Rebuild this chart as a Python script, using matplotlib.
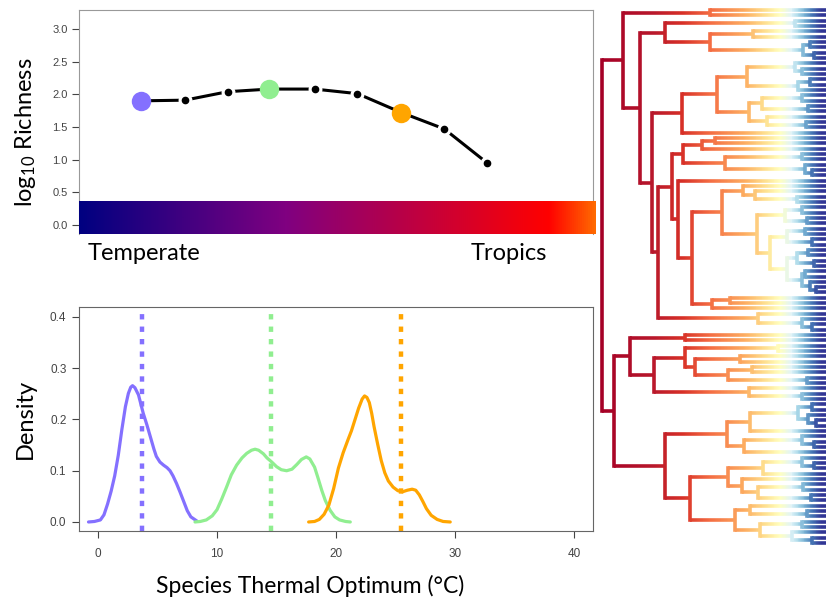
import numpy as np
import matplotlib
matplotlib.use('Agg')
import matplotlib.pyplot as plt
from matplotlib.colors import LinearSegmentedColormap, Normalize
from matplotlib.collections import LineCollection

# richness along the thermal gradient (top panel)
rich_x = [3.6, 7.3, 10.9, 14.4, 18.2, 21.8, 25.5, 29.1, 32.7]
rich_y = [1.90, 1.91, 2.04, 2.08, 2.08, 2.01, 1.72, 1.47, 0.95]
highlight_idx = [0, 3, 6]

group_colors = ['#8470FF', '#90EE90', '#FFA500']
group_means = [3.7, 14.5, 25.5]

# density curves
dens_x = [
    [-0.8, -0.3, 0.2, 0.5, 0.8, 1.1, 1.4, 1.7, 2.0, 2.3, 2.55, 2.75, 2.9, 3.1, 3.4, 3.8,
     4.1, 4.4, 4.7, 4.9, 5.2, 5.5, 5.8, 6.05, 6.3, 6.6, 6.9, 7.2, 7.5, 7.8, 8.3],
    [8.15, 8.6, 9.1, 9.6, 10.0, 10.4, 10.8, 11.2, 11.65, 12.1, 12.5, 12.9, 13.2, 13.5, 13.9,
     14.2, 14.6, 15.0, 15.4, 15.85, 16.3, 16.7, 17.1, 17.5, 17.8, 18.2, 18.5, 18.8, 19.1,
     19.5, 19.9, 20.3, 20.8, 21.2],
    [17.7, 18.2, 18.6, 19.0, 19.4, 19.8, 20.2, 20.6, 21.0, 21.3, 21.6, 21.9, 22.2, 22.4,
     22.6, 22.8, 23.0, 23.2, 23.5, 23.8, 24.1, 24.4, 24.8, 25.2, 25.6, 26.0, 26.4, 26.7,
     27.0, 27.3, 27.6, 28.0, 28.5, 29.0, 29.6],
]
dens_y = [
    [0.0, 0.001, 0.004, 0.014, 0.035, 0.060, 0.090, 0.130, 0.180, 0.225, 0.251, 0.263,
     0.266, 0.262, 0.248, 0.212, 0.190, 0.166, 0.142, 0.128, 0.117, 0.111, 0.106, 0.100,
     0.090, 0.075, 0.058, 0.040, 0.022, 0.010, 0.002],
    [0.0, 0.001, 0.004, 0.012, 0.024, 0.045, 0.068, 0.092, 0.111, 0.125, 0.134, 0.140,
     0.142, 0.140, 0.133, 0.125, 0.117, 0.108, 0.102, 0.100, 0.103, 0.112, 0.122, 0.127,
     0.123, 0.107, 0.085, 0.062, 0.042, 0.023, 0.010, 0.004, 0.001, 0.0],
    [0.0, 0.001, 0.005, 0.015, 0.033, 0.065, 0.105, 0.135, 0.160, 0.178, 0.200, 0.222,
     0.240, 0.246, 0.243, 0.233, 0.212, 0.186, 0.152, 0.120, 0.096, 0.080, 0.068, 0.061,
     0.059, 0.062, 0.064, 0.062, 0.053, 0.040, 0.026, 0.013, 0.005, 0.001, 0.0],
]

# gradient bar colours (temperate -> tropics)
bar_colors = [(0.0, '#000080'), (0.40, '#800080'), (0.91, '#ff0000'), (1.0, '#ff6a00')]

# phylogeny, newick-like: "t" = tip, number after ")" = node depth
TIP_DEPTH = 240
clade_a1 = "(t,t)108"
clade_a2a = "((t,t)193,((t,t)151,((t,t)208,(t,t)212)201)108)63"
clade_747 = "((t,(t,t)200)193,((t,t)208,t)196)145"
clade_749 = "(((t,t)200,(t,t)206)160,(t,(t,t)204)165)147"
clade_683 = "(((t,t)113,t)100,((t,t)200,(t,(t,t)210)203)123)81"
clade_757 = ("(((t,t)200,(t,t)205)183,(((t,t)203,(t,t)210)185,"
             "(((t,t)206,(t,t)212)195,((t,t)203,(t,(t,t)214)208)200)185)168)155")
clade_758 = "(t,(t,(t,t)210)200)156"
clade_b1 = "((t,t)83,(((t,t)176,((t,t)138,((t,t)150,(t,t)205)126)93)83,(t,(t,t)200)147)52)28"
clade_727 = "((((t,t)210,(t,(t,t)214)206)196,t)148,((t,(t,t)212)200,t)142)125"
clade_690 = ("((((t,(t,t)212)200,t)161,(t,((t,t)201,(t,t)209)156)140)126,"
             "((t,(t,t)205)148,((t,t)200,(t,(t,t)210)190)158)133)88")

# depth -> colour along the tree
tree_stops = [(0, '#a50026'), (50, '#b8172b'), (80, '#d73027'), (108, '#f46d43'),
              (143, '#fdae61'), (163, '#fee090'), (178, '#ffffbf'), (189, '#e0f3f8'),
              (196, '#abd9e9'), (203, '#74add1'), (210, '#4575b4'), (219, '#313695')]


def build_newick():
    c682 = "((" + clade_747 + "," + clade_749 + ")115,t)80"
    c722 = "((t,(t,(t,t)195)153)141," + clade_757 + ")120"
    c692 = "(" + c722 + ",((t,t)128,t)110)90"
    c658 = "((" + clade_683 + ",(t," + c692 + ")76)70," + clade_758 + ")56"
    a2 = "(" + clade_a2a + ",(" + c682 + "," + c658 + ")50)38"
    a = "(" + clade_a1 + "," + a2 + ")21"
    b = "(" + clade_b1 + ",(" + clade_727 + "," + clade_690 + ")63)12"
    return "(" + a + "," + b + ")0"


def parse_newick(s):
    pos = 0

    def node():
        nonlocal pos
        if s[pos] == 't':
            pos += 1
            return {'depth': TIP_DEPTH, 'kids': []}
        pos += 1
        kids = [node()]
        while s[pos] == ',':
            pos += 1
            kids.append(node())
        pos += 1
        start = pos
        while pos < len(s) and (s[pos].isdigit() or s[pos] == '.'):
            pos += 1
        return {'depth': float(s[start:pos]), 'kids': kids}

    return node()


def layout(nd, tips):
    if not nd['kids']:
        nd['y'] = len(tips)
        tips.append(nd)
        return
    for k in nd['kids']:
        layout(k, tips)
    nd['y'] = (nd['kids'][0]['y'] + nd['kids'][-1]['y']) / 2


plt.rcParams['font.family'] = ['Lato', 'DejaVu Sans']
plt.rcParams['mathtext.fontset'] = 'custom'
plt.rcParams['mathtext.rm'] = 'Lato'
plt.rcParams['mathtext.default'] = 'rm'

W, H = 826, 600
fig = plt.figure(figsize=(W / 100, H / 100), dpi=100)

xlim = (-1.6, 41.6)
label_size = 17
tick_kw = dict(colors='#444444', labelcolor='#444444', length=5, width=0.8,
               labelfontfamily='Liberation Sans')

# ---- top panel: richness + gradient bar
ax1 = fig.add_axes([79 / W, 1 - 234 / H, 514 / W, 224 / H])
ax1.set_xlim(*xlim)
ax1.set_ylim(-0.138, 3.29)
grad = np.linspace(0, 1, 512).reshape(1, -1)
bar_cmap = LinearSegmentedColormap.from_list('bar', bar_colors)
ax1.imshow(grad, cmap=bar_cmap, aspect='auto', extent=(-1.6, 41.8, -0.138, 0.367),
           zorder=3, clip_on=False)
ax1.plot(rich_x, rich_y, color='black', lw=2.2, zorder=4)
small = [i for i in range(len(rich_x)) if i not in highlight_idx]
ax1.plot([rich_x[i] for i in small], [rich_y[i] for i in small], 'o', ms=9,
         color='white', zorder=5)
ax1.plot([rich_x[i] for i in small], [rich_y[i] for i in small], 'o', ms=4.5,
         color='black', zorder=6)
for i, c in zip(highlight_idx, group_colors):
    ax1.plot(rich_x[i], rich_y[i], 'o', ms=14, color=c, mec='none', zorder=7)
ax1.set_yticks(np.arange(0, 3.01, 0.5))
ax1.set_yticklabels([f'{v:.1f}' for v in np.arange(0, 3.01, 0.5)])
ax1.set_xticks([])
ax1.tick_params(axis='y', pad=3, labelsize=8, **tick_kw)
for side in ['left', 'top', 'right']:
    ax1.spines[side].set_color('#999999')
ax1.spines['bottom'].set_visible(False)
ax1.set_ylabel(r'log$_{10}$ Richness', fontsize=label_size)
ax1.yaxis.set_label_coords(-0.080, 0.455)

fig.text(88 / W, 1 - 253 / H, 'Temperate', fontsize=label_size, va='center', ha='left')
fig.text(471 / W, 1 - 253 / H, 'Tropics', fontsize=label_size, va='center', ha='left')

# ---- bottom panel: thermal optimum densities
ax2 = fig.add_axes([79 / W, 1 - 531 / H, 514 / W, 224 / H])
ax2.set_xlim(*xlim)
ax2.set_ylim(-0.0176, 0.4195)
for xs, ys, c, m in zip(dens_x, dens_y, group_colors, group_means):
    ax2.plot(xs, ys, color=c, lw=2.3, solid_capstyle='round', solid_joinstyle='round',
             zorder=3)
    ax2.axvline(m, color=c, lw=3.2, linestyle=(0, (1.2, 1.6)), zorder=2)
ax2.set_xticks([0, 10, 20, 30, 40])
ax2.set_yticks(np.arange(0, 0.41, 0.1))
ax2.set_yticklabels([f'{v:.1f}' for v in np.arange(0, 0.41, 0.1)])
ax2.tick_params(axis='y', pad=4, labelsize=8.5, **tick_kw)
ax2.tick_params(axis='x', pad=7, labelsize=8.5, **tick_kw)
for side in ax2.spines:
    ax2.spines[side].set_color('#666666')
ax2.set_ylabel('Density', fontsize=label_size)
ax2.yaxis.set_label_coords(-0.084, 0.5)
ax2.set_xlabel('Species Thermal Optimum (°C)', fontsize=16.5)
ax2.xaxis.set_label_coords(0.449, -0.195)

# ---- right: phylogeny coloured by depth
root = parse_newick(build_newick())
tips = []
layout(root, tips)
n_tips = len(tips)
step = (543 - 10) / (n_tips - 1)

tree_cmap = LinearSegmentedColormap.from_list(
    'tree', [(d / tree_stops[-1][0], c) for d, c in tree_stops])
norm = Normalize(0, tree_stops[-1][0])

hsegs, hcols, vsegs, vcols = [], [], [], []


def collect(nd, parent_depth):
    if parent_depth is not None:
        xs = np.arange(parent_depth, nd['depth'], 0.5)
        for x0 in xs:
            x1 = min(x0 + 0.5, nd['depth'])
            hsegs.append([(x0, nd['y']), (x1, nd['y'])])
            hcols.append(tree_cmap(norm(min(x0, tree_stops[-1][0]))))
    if nd['kids']:
        vsegs.append([(nd['depth'], nd['kids'][0]['y']), (nd['depth'], nd['kids'][-1]['y'])])
        vcols.append(tree_cmap(norm(nd['depth'])))
        for k in nd['kids']:
            collect(k, nd['depth'])


collect(root, None)

ax3 = fig.add_axes([598 / W, 0, 228 / W, 1])
ax3.set_xlim(-4, 224)
ax3.set_ylim((H - 10) / step, -10 / step)
ax3.add_collection(LineCollection(hsegs, colors=hcols, linewidths=2.6, capstyle='butt'))
ax3.add_collection(LineCollection(vsegs, colors=vcols, linewidths=2.6, capstyle='projecting'))
ax3.axis('off')

fig.savefig('out.png', dpi=100)
